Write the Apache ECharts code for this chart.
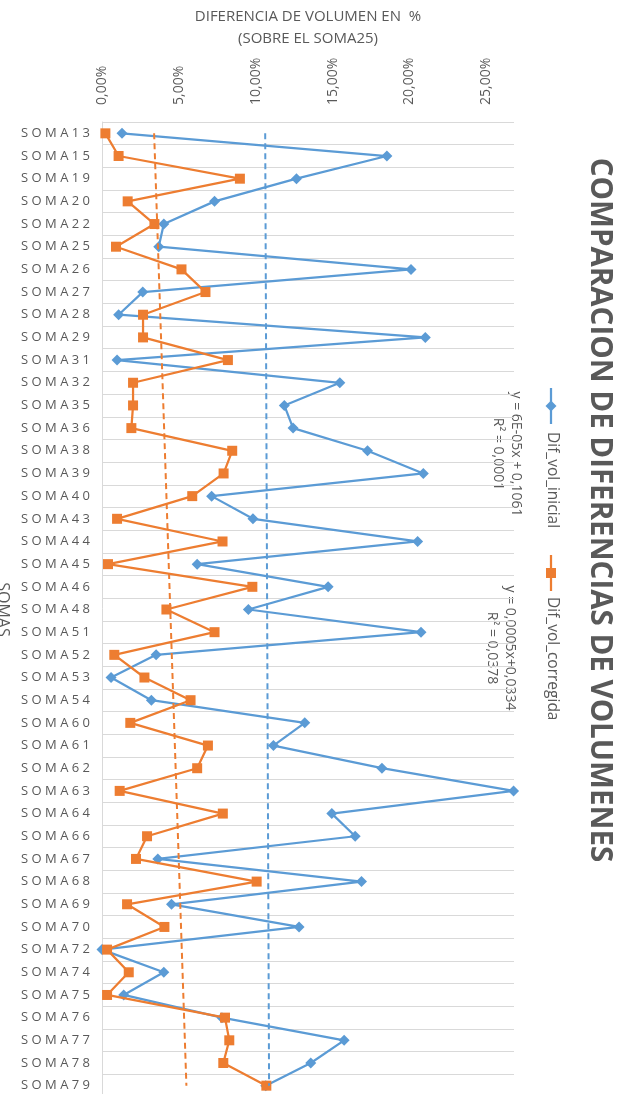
<!DOCTYPE html>
<html>
<head>
<meta charset="utf-8">
<script src="https://cdn.jsdelivr.net/npm/echarts@6/dist/echarts.min.js"></script>
<style>
  html, body { margin: 0; padding: 0; background: #ffffff; }
  #chart { width: 623px; height: 1094px; }
</style>
</head>
<body>
<div id="chart"></div>
<script>
// Somas, top to bottom
const somas = [
  'SOMA13','SOMA15','SOMA19','SOMA20','SOMA22','SOMA25','SOMA26','SOMA27','SOMA28','SOMA29',
  'SOMA31','SOMA32','SOMA35','SOMA36','SOMA38','SOMA39','SOMA40','SOMA43','SOMA44','SOMA45',
  'SOMA46','SOMA48','SOMA51','SOMA52','SOMA53','SOMA54','SOMA60','SOMA61','SOMA62','SOMA63',
  'SOMA64','SOMA66','SOMA67','SOMA68','SOMA69','SOMA70','SOMA72','SOMA74','SOMA75','SOMA76',
  'SOMA77','SOMA78','SOMA79'
];

// Volume difference relative to SOMA25 (fractions)
const difVolInicial = [
  0.0130, 0.1853, 0.1265, 0.0732, 0.0402, 0.0369, 0.2010, 0.0265, 0.0108, 0.2103,
  0.0098, 0.1547, 0.1186, 0.1243, 0.1727, 0.2090, 0.0713, 0.0982, 0.2053, 0.0619,
  0.1471, 0.0952, 0.2075, 0.0352, 0.0059, 0.0321, 0.1319, 0.1115, 0.1821, 0.2677,
  0.1495, 0.1647, 0.0363, 0.1688, 0.0452, 0.1282, 0.0000, 0.0402, 0.0141, 0.0780,
  0.1575, 0.1358, 0.1065
];
const difVolCorregida = [
  0.0022, 0.0108, 0.0897, 0.0167, 0.0341, 0.0091, 0.0517, 0.0673, 0.0267, 0.0267,
  0.0819, 0.0202, 0.0202, 0.0191, 0.0847, 0.0791, 0.0587, 0.0098, 0.0784, 0.0039,
  0.0978, 0.0419, 0.0732, 0.0080, 0.0276, 0.0576, 0.0184, 0.0689, 0.0619, 0.0115,
  0.0786, 0.0293, 0.0221, 0.1006, 0.0163, 0.0406, 0.0033, 0.0174, 0.0033, 0.0800,
  0.0828, 0.0789, 0.1069
];

// Linear trend lines, y = slope * x + intercept (x = 1..n)
const seriesNames = ['Dif_vol_inicial', 'Dif_vol_corregida'];
const trendSlopes = [0.00006, 0.0005];
const trendIntercepts = [0.1061, 0.0334];
const trendLabels = ['y = 6E-05x + 0,1061\nR\u00b2 = 0,0001', 'y = 0,0005x+0,0334\nR\u00b2 = 0,0378'];

// Value axis ticks
const axisMin = 0;
const axisMax = 0.268;
const axisStep = 0.05;

const BLUE = '#5b9bd5';
const ORANGE = '#ed7d31';
const TEXT = '#595959';
const GRID = '#d9d9d9';
const FONT = '"Open Sans", "Liberation Sans", sans-serif';

function trendPoints(i) {
  const n = somas.length;
  return [
    [trendSlopes[i] * 1 + trendIntercepts[i], somas[0]],
    [trendSlopes[i] * n + trendIntercepts[i], somas[n - 1]]
  ];
}

const ROT = -Math.PI / 2;

const chart = echarts.init(document.getElementById('chart'), null, { renderer: 'canvas' });

chart.setOption({
  animation: false,
  backgroundColor: '#ffffff',
  grid: { left: 102, top: 122, width: 412, height: 975, containLabel: false, outerBoundsMode: 'none' },
  xAxis: {
    type: 'value',
    position: 'top',
    min: axisMin,
    max: axisMax,
    interval: axisStep,
    axisLine: { show: false },
    axisTick: { show: false },
    splitLine: { show: false },
    axisLabel: {
      rotate: -90,
      margin: 17,
      color: TEXT,
      fontFamily: FONT,
      fontSize: 14,
      showMaxLabel: false,
      formatter: function (v) {
        if (Math.abs(v / axisStep - Math.round(v / axisStep)) > 1e-6) return '';
        return (v * 100).toFixed(2).replace('.', ',') + '%';
      }
    },
    name: 'DIFERENCIA DE VOLUMEN EN  %\n(SOBRE EL SOMA25)',
    nameLocation: 'middle',
    nameGap: 71,
    nameTextStyle: { color: TEXT, fontFamily: FONT, fontSize: 15, lineHeight: 22 }
  },
  yAxis: {
    type: 'category',
    data: somas,
    inverse: true,
    boundaryGap: true,
    axisLine: { show: true, lineStyle: { color: GRID, width: 1 } },
    axisTick: { show: false },
    splitLine: { show: true, interval: 0, lineStyle: { color: GRID, width: 1 } },
    axisLabel: {
      interval: 0,
      margin: 12,
      color: TEXT,
      fontFamily: FONT,
      fontSize: 13,
      formatter: function (s) { return s.split('').join(' '); }
    },
    name: 'SOMAS',
    nameLocation: 'middle',
    nameRotate: -90,
    nameGap: 84,
    nameTextStyle: { color: TEXT, fontFamily: FONT, fontSize: 16 }
  },
  series: [
    {
      name: seriesNames[0],
      type: 'line',
      data: difVolInicial,
      symbol: 'diamond',
      symbolSize: 11,
      showSymbol: true,
      lineStyle: { color: BLUE, width: 2.25 },
      itemStyle: { color: BLUE },
      z: 2
    },
    {
      name: seriesNames[1],
      type: 'line',
      data: difVolCorregida,
      symbol: 'rect',
      symbolSize: 10,
      showSymbol: true,
      lineStyle: { color: ORANGE, width: 2.25 },
      itemStyle: { color: ORANGE },
      z: 3
    },
    {
      name: 'Lineal (' + seriesNames[0] + ')',
      type: 'line',
      data: trendPoints(0),
      symbol: 'none',
      silent: true,
      lineStyle: { color: BLUE, width: 2, type: [6, 4] },
      z: 4
    },
    {
      name: 'Lineal (' + seriesNames[1] + ')',
      type: 'line',
      data: trendPoints(1),
      symbol: 'none',
      silent: true,
      lineStyle: { color: ORANGE, width: 2, type: [6, 4] },
      z: 4
    }
  ],
  graphic: [
    // Chart title, reading top to bottom
    {
      type: 'text', x: 599, y: 510, rotation: ROT,
      style: {
        text: 'COMPARACION DE DIFERENCIAS DE VOLUMENES',
        fill: TEXT, font: 'bold 29.5px ' + FONT,
        align: 'center', verticalAlign: 'middle'
      }
    },
    // Legend: initial difference
    { type: 'line', shape: { x1: 551, y1: 388, x2: 551, y2: 424 }, style: { stroke: BLUE, lineWidth: 2.25 } },
    { type: 'polygon', shape: { points: [[551, 400.5], [556.5, 406], [551, 411.5], [545.5, 406]] }, style: { fill: BLUE } },
    {
      type: 'text', x: 552, y: 432, rotation: ROT,
      style: { text: seriesNames[0], fill: TEXT, font: '15.5px ' + FONT, align: 'left', verticalAlign: 'middle' }
    },
    // Legend: corrected difference
    { type: 'line', shape: { x1: 551, y1: 555, x2: 551, y2: 591 }, style: { stroke: ORANGE, lineWidth: 2.25 } },
    { type: 'rect', shape: { x: 546, y: 568, width: 10, height: 10 }, style: { fill: ORANGE } },
    {
      type: 'text', x: 552, y: 597, rotation: ROT,
      style: { text: seriesNames[1], fill: TEXT, font: '15.5px ' + FONT, align: 'left', verticalAlign: 'middle' }
    },
    // Trend line equations
    {
      type: 'text', x: 507, y: 454, rotation: ROT,
      style: { text: trendLabels[0], fill: TEXT, font: '14px ' + FONT, lineHeight: 18, align: 'center', verticalAlign: 'middle' }
    },
    {
      type: 'text', x: 501, y: 648, rotation: ROT,
      style: { text: trendLabels[1], fill: TEXT, font: '14px ' + FONT, lineHeight: 18, align: 'center', verticalAlign: 'middle' }
    }
  ]
});
</script>
</body>
</html>
